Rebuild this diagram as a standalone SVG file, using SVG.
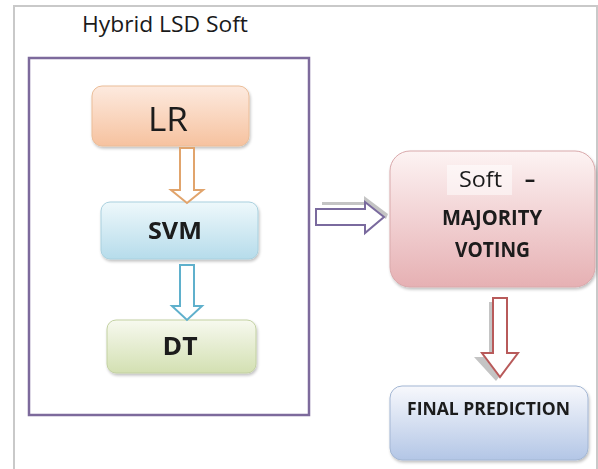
<svg xmlns="http://www.w3.org/2000/svg" width="598" height="469" viewBox="0 0 598 469">
  <defs>
    <linearGradient id="gLR" x1="0" y1="0" x2="0" y2="1">
      <stop offset="0" stop-color="#fdeadf"/>
      <stop offset="1" stop-color="#f6c29f"/>
    </linearGradient>
    <linearGradient id="gSVM" x1="0" y1="0" x2="0" y2="1">
      <stop offset="0" stop-color="#eef8fb"/>
      <stop offset="1" stop-color="#b6dceb"/>
    </linearGradient>
    <linearGradient id="gDT" x1="0" y1="0" x2="0" y2="1">
      <stop offset="0" stop-color="#f7f9ef"/>
      <stop offset="1" stop-color="#d3e0b2"/>
    </linearGradient>
    <linearGradient id="gVote" x1="0" y1="0" x2="0" y2="1">
      <stop offset="0" stop-color="#fdf3f3"/>
      <stop offset="1" stop-color="#e6b0b3"/>
    </linearGradient>
    <linearGradient id="gFinal" x1="0" y1="0" x2="0" y2="1">
      <stop offset="0" stop-color="#f7f8fc"/>
      <stop offset="1" stop-color="#b3c6e6"/>
    </linearGradient>
    <filter id="soft" x="-10%" y="-10%" width="120%" height="130%">
      <feGaussianBlur in="SourceAlpha" stdDeviation="1.5"/>
      <feOffset dx="1" dy="2" result="b"/>
      <feComponentTransfer><feFuncA type="linear" slope="0.25"/></feComponentTransfer>
      <feMerge><feMergeNode/><feMergeNode in="SourceGraphic"/></feMerge>
    </filter>
  </defs>
  <style>
    .lbl { font-family: "Open Sans", "Liberation Sans", sans-serif; fill: #1a1a1a; text-anchor: middle; }
    .b { font-weight: bold; }
    .arrow { fill: #ffffff; stroke-width: 2; stroke-linejoin: miter; }
    .shadow { fill: #c4c4c4; }
  </style>

  <!-- page frame -->
  <path d="M14 469 V6 H597 V469" fill="none" stroke="#c9c9c9" stroke-width="2"/>

  <!-- ensemble container -->
  <g id="hybrid">
    <rect x="29" y="58" width="280" height="357" fill="#ffffff" stroke="#7d6a9c" stroke-width="2.5"/>
    <text class="lbl" x="165" y="32" font-size="21" textLength="166" lengthAdjust="spacingAndGlyphs">Hybrid LSD Soft</text>
  </g>

  <g id="lr" filter="url(#soft)">
    <rect x="92" y="86" width="157" height="60" rx="10" fill="url(#gLR)" stroke="#ebbd98" stroke-width="1"/>
    <text class="lbl" x="168" y="131" font-size="32" textLength="40" lengthAdjust="spacingAndGlyphs">LR</text>
  </g>

  <g id="svm" filter="url(#soft)">
    <rect x="101" y="202" width="157" height="57" rx="9" fill="url(#gSVM)" stroke="#a9d0de" stroke-width="1"/>
    <text class="lbl b" x="175" y="239" font-size="24" textLength="54" lengthAdjust="spacingAndGlyphs">SVM</text>
  </g>

  <g id="dt" filter="url(#soft)">
    <rect x="107" y="320" width="149" height="53" rx="9" fill="url(#gDT)" stroke="#c3d1a2" stroke-width="1"/>
    <text class="lbl b" x="180" y="355" font-size="25" textLength="35" lengthAdjust="spacingAndGlyphs">DT</text>
  </g>

  <g id="voting" filter="url(#soft)">
    <rect x="390" y="151" width="205" height="136" rx="20" fill="url(#gVote)" stroke="#d9a9ab" stroke-width="1"/>
    <rect x="447" y="165" width="65" height="30" fill="#ffffff" opacity="0.5"/>
    <text class="lbl" x="480.5" y="187" font-size="21" textLength="43" lengthAdjust="spacingAndGlyphs">Soft</text>
    <text class="lbl b" x="530" y="187" font-size="21">–</text>
    <text class="lbl b" x="492" y="225" font-size="22" textLength="100" lengthAdjust="spacingAndGlyphs">MAJORITY</text>
    <text class="lbl b" x="492.5" y="257" font-size="22" textLength="75" lengthAdjust="spacingAndGlyphs">VOTING</text>
  </g>

  <g id="final" filter="url(#soft)">
    <rect x="390" y="386" width="198" height="74" rx="12" fill="url(#gFinal)" stroke="#a3b6d3" stroke-width="1"/>
    <text class="lbl b" x="488.5" y="415" font-size="18" textLength="163" lengthAdjust="spacingAndGlyphs">FINAL PREDICTION</text>
  </g>

  <!-- block arrows -->
  <g id="connectors">
    <!-- LR to SVM -->
    <path class="arrow" stroke="#e1a46c" d="M180 148 H194 V190 H203 L187 203 L171 190 H180 Z"/>
    <!-- SVM to DT -->
    <path class="arrow" stroke="#5fb0cc" d="M180 265 H194 V306 H202 L187 320 L172 306 H180 Z"/>
    <!-- container to voting -->
    <path class="shadow" d="M322 202 H364 V196 L388 214 L386 219 L366 205 H322 Z"/>
    <path class="arrow" stroke="#7a6a9e" d="M316 209 H365 V202 L384 217 L365 233 V225 H316 Z"/>
    <!-- voting to final -->
    <path class="shadow" d="M489 302 H493 V353 H481 L499 377 L496 381 L474 357 H489 Z"/>
    <path class="arrow" stroke="#b85a5a" d="M493 298 H507 V353 H518 L500 377 L482 353 H493 Z"/>
  </g>
</svg>
